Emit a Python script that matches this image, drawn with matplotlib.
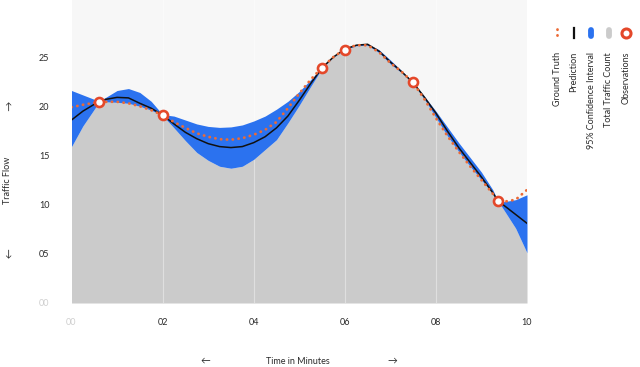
import matplotlib
matplotlib.use("Agg")
import matplotlib.pyplot as plt
from matplotlib.lines import Line2D

# time in minutes (extra samples at the observation times where the band pinches)
t = [0, 0.25, 0.5, 0.6, 0.75, 1.0, 1.25, 1.5, 1.75, 2.0, 2.25, 2.5, 2.75, 3.0,
     3.25, 3.5, 3.75, 4.0, 4.25, 4.5, 4.75, 5.0, 5.25, 5.5, 5.75, 6.0, 6.25,
     6.5, 6.75, 7.0, 7.25, 7.5, 7.75, 8.0, 8.25, 8.5, 8.75, 9.0, 9.25, 9.36,
     9.5, 9.75, 10.0]

ground_truth = [19.9, 20.15, 20.35, 20.4, 20.45, 20.45, 20.3, 20.0, 19.6, 19.1,
                18.4, 17.8, 17.25, 16.9, 16.65, 16.6, 16.75, 17.1, 17.6, 18.4,
                19.8, 21.3, 22.7, 23.95, 25.0, 25.8, 26.2, 26.2, 25.5, 24.4,
                23.5, 22.4, 20.7, 18.8, 17.0, 15.4, 13.9, 12.5, 11.1, 10.4,
                10.3, 10.5, 11.5]

prediction = [18.6, 19.5, 20.2, 20.45, 20.7, 20.9, 20.85, 20.3, 19.8, 19.1,
              18.2, 17.35, 16.7, 16.2, 15.9, 15.8, 15.9, 16.3, 16.9, 17.8,
              19.0, 20.6, 22.3, 23.9, 25.0, 25.8, 26.2, 26.3, 25.6, 24.5,
              23.5, 22.4, 20.9, 19.3, 17.5, 15.8, 14.3, 12.8, 11.2, 10.4,
              9.9, 9.0, 8.1]

ci_upper = [21.6, 21.15, 20.7, 20.5, 20.9, 21.6, 21.8, 21.4, 20.5, 19.15,
            19.0, 18.6, 18.2, 17.95, 17.85, 17.9, 18.1, 18.5, 19.0, 19.7,
            20.5, 21.5, 22.7, 23.95, 25.05, 25.85, 26.3, 26.35, 25.75, 24.7,
            23.6, 22.45, 21.0, 19.5, 17.9, 16.3, 14.8, 13.3, 11.5, 10.4,
            10.3, 10.5, 11.0]

ci_lower = [15.9, 18.0, 19.7, 20.4, 20.45, 20.4, 20.3, 20.0, 19.6, 19.05,
            17.8, 16.5, 15.3, 14.5, 13.9, 13.7, 13.9, 14.6, 15.6, 16.6,
            18.3, 20.1, 22.0, 23.85, 25.0, 25.75, 26.15, 26.2, 25.45, 24.3,
            23.4, 22.35, 20.7, 18.85, 17.0, 15.4, 13.9, 12.5, 11.1, 10.4,
            9.4, 7.6, 5.1]

obs_t = [0.6, 2.0, 5.5, 6.0, 7.5, 9.36]
obs_v = [20.45, 19.1, 23.9, 25.75, 22.45, 10.4]

x_ticks = [0, 2, 4, 6, 8, 10]
x_tick_labels = ["00", "02", "04", "06", "08", "10"]
y_ticks = [0, 5, 10, 15, 20, 25]
y_tick_labels = ["00", "05", "10", "15", "20", "25"]

legend_labels = ["Ground Truth", "Prediction", "95% Confidence Interval",
                 "Total Traffic Count", "Observations"]

plt.rcParams["font.family"] = ["Lato", "DejaVu Sans"]

ORANGE = "#ec6a35"
RED = "#e4482a"
BLUE = "#2b72ef"
GREY = "#cbcbcb"
TEXT = "#2a2a2a"
FS = 6.5

fig = plt.figure(figsize=(6.4, 3.67), dpi=100)
ax = fig.add_axes([71.5 / 640, 64 / 367, 455.5 / 640, 303 / 367])
ax.set_facecolor("#f7f7f7")

# grey area up to the lower bound, blue band between bounds
ax.fill_between(t, 0, ci_lower, color=GREY, lw=0, zorder=1)
for gx in x_ticks[1:-1]:
    ax.axvline(gx, color="white", alpha=0.4, lw=0.8, zorder=1.5)
ax.fill_between(t, ci_lower, ci_upper, color=BLUE, lw=0, zorder=2)
ax.plot(t, prediction, color="#111111", lw=1.1, zorder=3)
ax.plot(t, ground_truth, color=ORANGE, lw=2.0, linestyle=(0, (0.1, 2.0)),
        dash_capstyle="round", zorder=4)
ax.plot(obs_t, obs_v, "o", ms=6.5, mfc="white", mec=RED, mew=1.9, zorder=5)

ax.set_xlim(0, 10)
ax.set_ylim(0, 30.8)
ax.set_xticks(x_ticks)
ax.set_xticklabels(x_tick_labels)
ax.set_yticks(y_ticks)
ax.set_yticklabels(y_tick_labels)
ax.tick_params(length=0, labelsize=FS, colors=TEXT)
ax.tick_params(axis="y", pad=16)
ax.tick_params(axis="x", pad=11)
ax.get_xticklabels()[0].set_color("#cfcfcf")
ax.get_yticklabels()[0].set_color("#cfcfcf")
for s in ax.spines.values():
    s.set_visible(False)

# axis titles with arrows
fig.text(7.5 / 640, 1 - 180 / 367, "Traffic Flow", rotation=90, ha="center",
         va="center", fontsize=FS, color=TEXT)
fig.text(7.5 / 640, 1 - 107 / 367, "\u2191", ha="center", va="center",
         fontsize=7, color=TEXT)
fig.text(7.5 / 640, 1 - 254 / 367, "\u2193", ha="center", va="center",
         fontsize=7, color=TEXT)
fig.text(298 / 640, 1 - 361 / 367, "Time in Minutes", ha="center", va="center",
         fontsize=FS, color=TEXT)
fig.text(205.5 / 640, 1 - 361 / 367, "\u2190", ha="center", va="center",
         fontsize=7, color=TEXT)
fig.text(392 / 640, 1 - 361 / 367, "\u2192", ha="center", va="center",
         fontsize=7, color=TEXT)

# legend drawn by hand: symbols on top, rotated labels below
leg_x = [557, 573.5, 591, 608.5, 626]
tr = fig.transFigure
def fx(px):
    return px / 640
def fy(py):
    return 1 - py / 367

fig.add_artist(Line2D([fx(leg_x[0])] * 2, [fy(28.5), fy(37.5)], transform=tr,
                      color=ORANGE, lw=2.0, linestyle=(0, (0.1, 2.0)),
                      dash_capstyle="round"))
fig.add_artist(Line2D([fx(leg_x[1])] * 2, [fy(28), fy(38)], transform=tr,
                      color="#111111", lw=1.6))
fig.add_artist(Line2D([fx(leg_x[2])] * 2, [fy(30), fy(36)], transform=tr,
                      color=BLUE, lw=4.2, solid_capstyle="round"))
fig.add_artist(Line2D([fx(leg_x[3])] * 2, [fy(30), fy(36)], transform=tr,
                      color=GREY, lw=4.2, solid_capstyle="round"))
fig.add_artist(Line2D([fx(leg_x[4])], [fy(33)], transform=tr, marker="o",
                      ms=6.5, mfc="white", mec=RED, mew=2.2, lw=0))
for lx, lab in zip(leg_x, legend_labels):
    fig.text(fx(lx), fy(52), lab, rotation=90, ha="center", va="top",
             fontsize=FS, color=TEXT)

fig.savefig("out.png", dpi=100)
